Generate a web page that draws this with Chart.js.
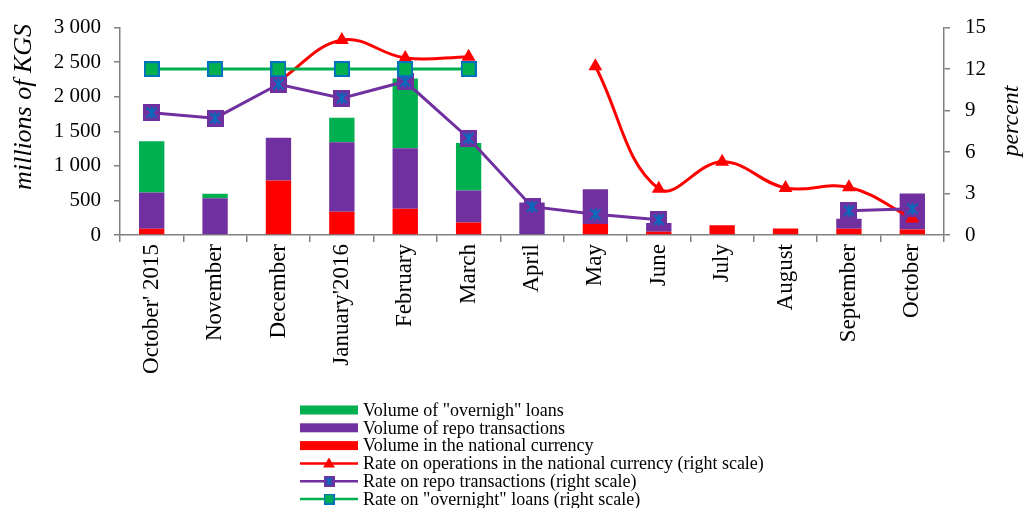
<!DOCTYPE html>
<html>
<head>
<meta charset="utf-8">
<script src="https://cdn.jsdelivr.net/npm/chart.js@4.4.1/dist/chart.umd.min.js"></script>
<style>
  html, body { margin: 0; padding: 0; background: #fff; }
  #wrap { width: 1023px; height: 508px; position: relative; }
</style>
</head>
<body>
<div id="wrap"><canvas id="rateChart"></canvas></div>
<script>
var months = ["October' 2015", "November", "December", "January'2016", "February", "March",
              "April", "May", "June", "July", "August", "September", "October"];

// volumes, millions of KGS (left scale)
var volNational = [90, 0, 790, 335, 380, 180, 0, 160, 47, 141, 94, 90, 80];
var volRepo = [525, 530, 615, 1005, 875, 465, 470, 500, 127, 0, 0, 146, 519];
var volOvernight = [740, 66, 0, 355, 1010, 685, 0, 0, 0, 0, 0, 0, 0];

// rates, percent (right scale)
var rateNational = [null, null, 11.1, 14.1, 12.8, 12.9, null, 12.2, 3.35, 5.3, 3.4, 3.45, 1.2];
var rateRepo = [8.85, 8.45, 10.9, 9.9, 11.1, 7.0, 2.05, 1.5, 1.1, null, null, 1.75, 1.9];
var rateOvernight = [12, 12, 12, 12, 12, 12, null, null, null, null, null, null, null];

var leftTicks = [0, 500, 1000, 1500, 2000, 2500, 3000];
var rightTicks = [0, 3, 6, 9, 12, 15];

var serif = "'Liberation Serif', 'Times New Roman', serif";
var GREEN = '#00B050', PURPLE = '#7030A0', RED = '#FF0000', BLUE = '#0070C0';
var axisColor = '#808080';

function repoMarker(size) {
    var c = document.createElement('canvas');
    c.width = size; c.height = size;
    var g = c.getContext('2d');
    g.fillStyle = PURPLE;
    g.fillRect(0, 0, size, size);
    g.strokeStyle = BLUE;
    g.lineWidth = size > 12 ? 2 : 1.5;
    var p = size * 0.2;
    g.beginPath();
    g.moveTo(p, p); g.lineTo(size - p, size - p);
    g.moveTo(size - p, p); g.lineTo(p, size - p);
    g.moveTo(size / 2, p * 0.7); g.lineTo(size / 2, size - p * 0.7);
    g.stroke();
    return c;
}

function overnightMarker(size) {
    var c = document.createElement('canvas');
    c.width = size; c.height = size;
    var g = c.getContext('2d');
    g.fillStyle = BLUE;
    g.fillRect(0, 0, size, size);
    var b = size > 12 ? 2 : 1.5;
    g.fillStyle = GREEN;
    g.fillRect(b, b, size - 2 * b, size - 2 * b);
    return c;
}

var repoPt = repoMarker(17), overnightPt = overnightMarker(16);
var repoLeg = repoMarker(11), overnightLeg = overnightMarker(11);

var legendItems = [
    { kind: 'bar', color: GREEN, text: 'Volume of "overnigh" loans' },
    { kind: 'bar', color: PURPLE, text: 'Volume of repo transactions' },
    { kind: 'bar', color: RED, text: 'Volume in the national currency' },
    { kind: 'tri', color: RED, text: 'Rate on operations in the national currency (right scale)' },
    { kind: 'img', color: PURPLE, img: repoLeg, text: 'Rate on repo transactions (right scale)' },
    { kind: 'img', color: GREEN, img: overnightLeg, text: 'Rate on "overnight" loans (right scale)' }
];

var extras = {
    id: 'extras',
    afterDraw: function(chart) {
        var ctx = chart.ctx;
        ctx.save();
        ctx.fillStyle = '#000';
        ctx.textAlign = 'center';
        ctx.textBaseline = 'middle';
        ctx.font = 'italic 26px ' + serif;
        ctx.save(); ctx.translate(24, 107); ctx.rotate(-Math.PI / 2);
        ctx.fillText('millions of KGS', 0, 0); ctx.restore();
        ctx.font = 'italic 24px ' + serif;
        ctx.save(); ctx.translate(1012, 121); ctx.rotate(-Math.PI / 2);
        ctx.fillText('percent', 0, 0); ctx.restore();

        // legend
        var x0 = 300, x1 = 358, tx = 363, y = 410, step = 17.8;
        ctx.font = '18px ' + serif;
        ctx.textAlign = 'left';
        legendItems.forEach(function(it, i) {
            var yy = y + i * step;
            if (it.kind === 'bar') {
                ctx.fillStyle = it.color;
                ctx.fillRect(x0, yy - 4.5, x1 - x0, 9);
            } else {
                ctx.strokeStyle = it.color;
                ctx.lineWidth = 2.5;
                ctx.beginPath(); ctx.moveTo(x0, yy); ctx.lineTo(x1, yy); ctx.stroke();
                var cx = (x0 + x1) / 2;
                if (it.kind === 'tri') {
                    ctx.fillStyle = it.color;
                    ctx.beginPath();
                    ctx.moveTo(cx, yy - 6); ctx.lineTo(cx + 6, yy + 4); ctx.lineTo(cx - 6, yy + 4);
                    ctx.closePath(); ctx.fill();
                } else {
                    ctx.drawImage(it.img, cx - it.img.width / 2, yy - it.img.height / 2);
                }
            }
            ctx.fillStyle = '#000';
            ctx.fillText(it.text, tx, yy + 1);
        });
        ctx.restore();
    }
};

var ctxR = document.getElementById('rateChart').getContext('2d');
var rateChart = new Chart(ctxR, {
    type: 'bar',
    data: {
        labels: months,
        datasets: [{
            type: 'line',
            label: 'Rate on "overnight" loans (right scale)',
            data: rateOvernight,
            yAxisID: 'y1',
            borderColor: GREEN,
            borderWidth: 3,
            pointStyle: overnightPt,
            order: 1
        }, {
            type: 'line',
            label: 'Rate on repo transactions (right scale)',
            data: rateRepo,
            yAxisID: 'y1',
            borderColor: PURPLE,
            borderWidth: 3,
            pointStyle: repoPt,
            order: 2
        }, {
            type: 'line',
            label: 'Rate on operations in the national currency (right scale)',
            data: rateNational,
            yAxisID: 'y1',
            borderColor: RED,
            backgroundColor: RED,
            borderWidth: 3,
            tension: 0.4,
            pointStyle: 'triangle',
            pointRadius: 8,
            order: 3
        }, {
            label: 'Volume in the national currency',
            data: volNational,
            backgroundColor: RED,
            order: 4
        }, {
            label: 'Volume of repo transactions',
            data: volRepo,
            backgroundColor: PURPLE,
            order: 4
        }, {
            label: 'Volume of "overnigh" loans',
            data: volOvernight,
            backgroundColor: GREEN,
            order: 4
        }]
    },
    options: {
        responsive: true,
        maintainAspectRatio: false,
        animation: false,
        layout: { padding: { top: 19, bottom: 118, left: 0, right: 0 } },
        datasets: {
            bar: { barPercentage: 0.4, categoryPercentage: 1, borderWidth: 0 },
            line: { spanGaps: false, fill: false, pointBorderWidth: 0 }
        },
        plugins: { legend: { display: false }, tooltip: { enabled: false } },
        scales: {
            x: {
                stacked: true,
                grid: { display: true, drawOnChartArea: false, offset: true, tickLength: 7, color: axisColor, lineWidth: 1.5 },
                border: { color: axisColor, width: 1.5 },
                ticks: { minRotation: 90, maxRotation: 90, autoSkip: false, padding: 2, color: '#000',
                         font: { family: serif, size: 23 } },
                afterFit: function(s) { s.height = 155; }
            },
            y: {
                stacked: true,
                min: 0, max: 3000,
                afterBuildTicks: function(s) { s.ticks = leftTicks.map(function(v) { return { value: v }; }); },
                grid: { drawOnChartArea: false, tickLength: 6, color: axisColor, lineWidth: 1.5 },
                border: { color: axisColor, width: 1.5 },
                ticks: { padding: 13, color: '#000', font: { family: serif, size: 21 },
                         callback: function(v) { return String(v).replace(/\B(?=(\d{3})+(?!\d))/g, ' '); } },
                afterFit: function(s) { s.width = 120; }
            },
            y1: {
                position: 'right',
                min: 0, max: 15,
                afterBuildTicks: function(s) { s.ticks = rightTicks.map(function(v) { return { value: v }; }); },
                grid: { drawOnChartArea: false, tickLength: 6, color: axisColor, lineWidth: 1.5 },
                border: { color: axisColor, width: 1.5 },
                ticks: { padding: 15, color: '#000', font: { family: serif, size: 21 } },
                afterFit: function(s) { s.width = 79; }
            }
        }
    },
    plugins: [extras]
});
</script>
</body>
</html>
